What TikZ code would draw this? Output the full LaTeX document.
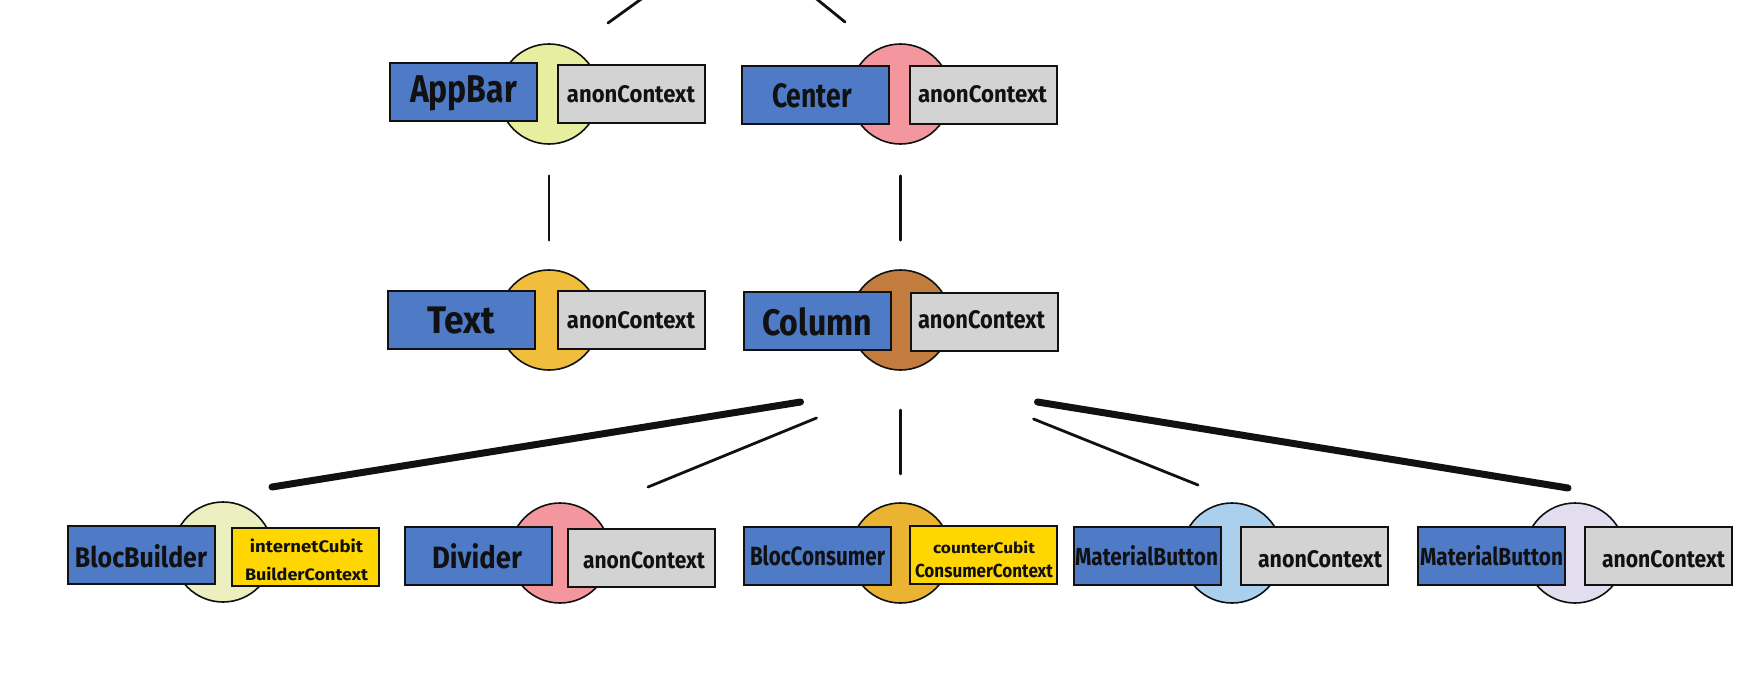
\documentclass[tikz,border=0pt]{standalone}
\usepackage{fontspec}
\setmainfont{Fira Sans}
\usepackage{graphicx}
\definecolor{boxblue}{RGB}{78,122,198}
\definecolor{boxgray}{RGB}{211,211,211}
\definecolor{boxyellow}{RGB}{255,214,0}
\definecolor{cLime}{RGB}{232,238,160}
\definecolor{cPink}{RGB}{244,150,158}
\definecolor{cGold}{RGB}{240,190,60}
\definecolor{cBrown}{RGB}{194,124,62}
\definecolor{cPale}{RGB}{236,240,192}
\definecolor{cAmber}{RGB}{234,180,50}
\definecolor{cSky}{RGB}{170,208,238}
\definecolor{cLav}{RGB}{226,222,240}
\definecolor{ink}{RGB}{17,17,17}
\newcommand{\fitlbl}[3]{\resizebox{#1pt}{#2pt}{\bfseries #3}}
\tikzset{
  wbox/.style={draw=ink, line width=1pt, fill=boxblue, minimum width=73.5pt, minimum height=29pt, inner sep=0pt},
  cbox/.style={wbox, fill=boxgray},
  ybox/.style={wbox, fill=boxyellow},
  ring/.style={circle, draw=ink, line width=0.8pt, minimum size=50pt, inner sep=0pt},
  lbl/.style={anchor=base, inner sep=0pt, text=ink},
  conn/.style={line width=1.4pt, line cap=round, draw=ink},
  heavy/.style={line width=3.5pt, line cap=round, draw=ink}
}
\begin{document}
\begin{tikzpicture}[x=0.5pt, y=-0.5pt]
\useasboundingbox (0,0) rectangle (1762,696);
\fill[white] (0,0) rectangle (1762,696);
\clip (0,0) rectangle (1762,696);

% ---------- row 1 ----------
\node[ring, fill=cLime] (appbarC) at (549,94) {};
\node[wbox] (appbar) at (463.5,92) {};
\node[cbox] (appbarX) at (631.5,94) {};
\node[lbl] (appbarT) at (463.5,103) {\fitlbl{53.5}{13.4}{AppBar}};
\node[lbl] (appbarXT) at (631,102) {\fitlbl{64}{8.5}{anonContext}};

\node[ring, fill=cPink] (centerC) at (900.5,94) {};
\node[wbox] (center) at (815,95) {};
\node[cbox] (centerX) at (983,94.5) {};
\node[lbl] (centerT) at (812,107) {\fitlbl{40}{12}{Center}};
\node[lbl] (centerXT) at (982.5,102) {\fitlbl{64.5}{8.5}{anonContext}};

% ---------- row 2 ----------
\node[ring, fill=cGold] (textC) at (549,320) {};
\node[wbox] (text) at (461,320) {};
\node[cbox] (textX) at (631.5,319.5) {};
\node[lbl] (textT) at (461,333) {\fitlbl{34}{13.3}{Text}};
\node[lbl] (textXT) at (631,328) {\fitlbl{64}{8.5}{anonContext}};

\node[ring, fill=cBrown] (columnC) at (900.5,320) {};
\node[wbox] (column) at (817.5,321) {};
\node[cbox] (columnX) at (984,321.5) {};
\node[lbl] (columnT) at (817,335) {\fitlbl{55}{14}{Column}};
\node[lbl] (columnXT) at (981.5,328) {\fitlbl{63.5}{9}{anonContext}};

% ---------- row 3 ----------
\node[ring, fill=cPale] (bbC) at (223,552) {};
\node[wbox] (bb) at (141.5,555) {};
\node[ybox] (bbX) at (305,557) {};
\node[lbl] (bbT) at (141,567) {\fitlbl{66}{11.5}{BlocBuilder}};
\node[lbl] (bbXT1) at (306.5,552) {\fitlbl{56.5}{6.8}{internetCubit}};
\node[lbl] (bbXT2) at (306.5,580) {\fitlbl{61.5}{6.7}{BuilderContext}};

\node[ring, fill=cPink] (divC) at (560,553) {};
\node[wbox] (div) at (478.5,555.5) {};
\node[cbox] (divX) at (641.5,557.5) {};
\node[lbl] (divT) at (477,568) {\fitlbl{45}{12.5}{Divider}};
\node[lbl] (divXT) at (644,568) {\fitlbl{61}{8.4}{anonContext}};

\node[ring, fill=cAmber] (bcC) at (900.5,553) {};
\node[wbox] (bc) at (817.5,556) {};
\node[ybox] (bcX) at (983.5,555) {};
\node[lbl] (bcT) at (817.5,565) {\fitlbl{67.5}{10}{BlocConsumer}};
\node[lbl] (bcXT1) at (984,553) {\fitlbl{51}{6.2}{counterCubit}};
\node[lbl] (bcXT2) at (984,577) {\fitlbl{69}{6.7}{ConsumerContext}};

\node[ring, fill=cSky] (mbaC) at (1232,553) {};
\node[wbox] (mba) at (1147.5,556) {};
\node[cbox] (mbaX) at (1314,555.5) {};
\node[lbl] (mbaT) at (1146.5,565) {\fitlbl{71.5}{10}{MaterialButton}};
\node[lbl] (mbaXT) at (1320,567) {\fitlbl{62}{8.5}{anonContext}};

\node[ring, fill=cLav] (mbbC) at (1575,553) {};
\node[wbox] (mbb) at (1491.5,556) {};
\node[cbox] (mbbX) at (1658.5,556) {};
\node[lbl] (mbbT) at (1491.5,565) {\fitlbl{71.5}{10}{MaterialButton}};
\node[lbl] (mbbXT) at (1663.5,567) {\fitlbl{61.5}{8.5}{anonContext}};

% ---------- connectors ----------
\coordinate (topL) at ([shift={(59,-71)}]appbarC.center);
\coordinate (topLp) at ([shift={(102,-102)}]appbarC.center);
\coordinate (topR) at ([shift={(-55.5,-72)}]centerC.center);
\coordinate (topRp) at ([shift={(-92.5,-102)}]centerC.center);
\draw[conn] (topL) -- (topLp);
\draw[conn] (topR) -- (topRp);

\draw[conn, shorten <=15.5pt, shorten >=14.5pt] (appbarC.south) -- (textC.north);
\draw[conn, shorten <=15.5pt, shorten >=14.5pt] (centerC.south) -- (columnC.north);

\coordinate (k1a) at ([shift={(-100,82)}]columnC.center);
\coordinate (k1b) at ([shift={(49,-65)}]bbC.center);
\coordinate (k2a) at ([shift={(-84,98)}]columnC.center);
\coordinate (k2b) at ([shift={(88,-66)}]divC.center);
\coordinate (k3a) at ([shift={(0,90)}]columnC.center);
\coordinate (k3b) at ([shift={(0,-79)}]bcC.center);
\coordinate (k4a) at ([shift={(133,99)}]columnC.center);
\coordinate (k4b) at ([shift={(-34,-68)}]mbaC.center);
\coordinate (k5a) at ([shift={(137,82)}]columnC.center);
\coordinate (k5b) at ([shift={(-7,-65)}]mbbC.center);
\draw[heavy] (k1a) -- (k1b);
\draw[conn] (k2a) -- (k2b);
\draw[conn] (k3a) -- (k3b);
\draw[conn] (k4a) -- (k4b);
\draw[heavy] (k5a) -- (k5b);
\end{tikzpicture}
\end{document}
